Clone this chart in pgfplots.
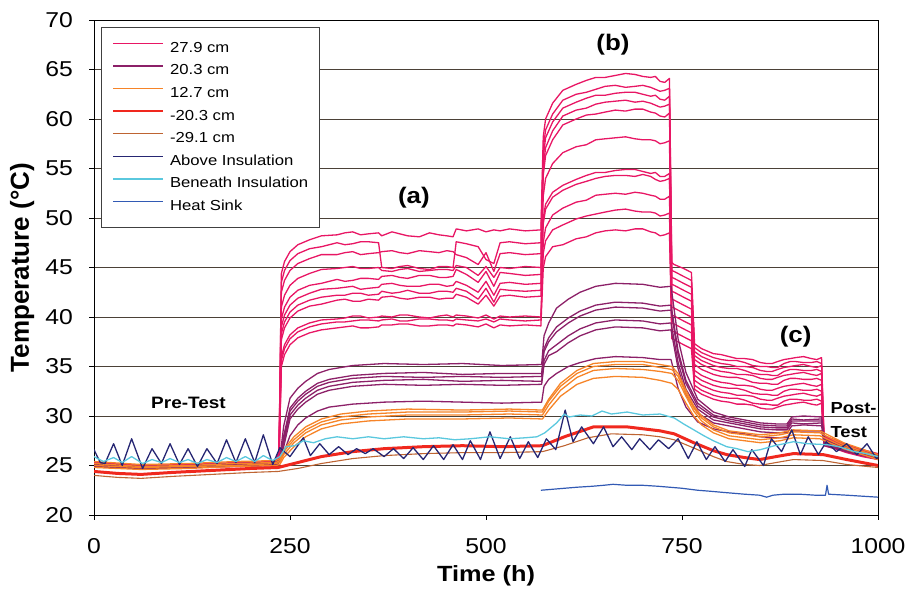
\documentclass[border=0pt]{standalone}
\usepackage{fontspec}
\setmainfont{Liberation Sans}[FakeStretch=1.15]
\newfontfamily\ylabfont{Liberation Sans}
\usepackage{pgfplots}
\usepackage{pgfplotstable}
\pgfplotsset{compat=1.18}

\definecolor{pinkc}{RGB}{232,22,100}
\definecolor{purplec}{RGB}{140,32,104}
\definecolor{orangec}{RGB}{246,132,40}
\definecolor{redc}{RGB}{240,40,30}
\definecolor{brownc}{RGB}{190,100,50}
\definecolor{navyc}{RGB}{38,38,115}
\definecolor{cyanc}{RGB}{90,200,222}
\definecolor{bluec}{RGB}{50,90,180}
\definecolor{gridc}{RGB}{75,65,55}

% thermocouples at 27.9 cm
\pgfplotstableread{
t a b c d e f g h i j k
0    25.3 25.2 25.1 25.3 25.0 25.2 25.1 25.0 24.9 25.1 24.9
60   25.0 24.9 24.9 25.0 24.8 24.9 24.8 24.8 24.7 24.8 24.7
120  25.1 25.0 25.0 25.1 24.9 25.0 24.9 24.9 24.8 24.9 24.8
180  25.3 25.2 25.1 25.2 25.1 25.1 25.0 25.0 25.0 25.0 24.9
232  25.4 25.3 25.3 25.4 25.2 25.3 25.2 25.1 25.1 25.1 25.0
236  26.5 26.2 26.0 26.3 25.9 26.1 25.8 25.7 25.6 25.6 25.5
239  44.4 43.5 42.5 41.0 39.8 39.0 38.3 37.7 36.0 35.6 35.0
243  45.6 44.7 43.7 42.2 41.0 40.2 39.5 38.9 37.2 36.8 36.2
250  46.6 45.7 44.7 43.2 42.0 41.2 40.5 39.9 38.2 37.8 37.2
260  47.3 46.4 45.4 43.9 42.7 41.9 41.2 40.6 38.9 38.5 37.9
275  47.8 46.9 45.9 44.4 43.2 42.4 41.7 41.1 39.4 39.0 38.4
290  48.2 47.1 46.3 44.8 43.4 42.8 42.0 41.3 39.7 39.3 38.7
310  48.3 47.5 46.3 44.9 43.8 42.9 42.2 41.7 39.8 39.5 38.9
320  48.5 47.3 46.5 45.0 43.6 43.0 42.2 41.8 39.9 39.5 39.0
330  48.6 47.4 46.6 45.1 43.7 43.1 42.4 41.6 40.1 39.6 39.1
340  48.3 47.6 46.3 44.9 43.9 42.8 42.4 41.6 40.1 39.7 38.9
350  48.4 47.6 46.4 44.9 43.9 42.9 42.2 41.8 39.9 39.7 38.9
363  48.5 47.5 46.5 45.0 43.8 43.0 42.3 41.7 40.0 39.6 39.0
367  48.2 45.0 46.6 44.7 44.1 43.3 42.6 42.0 40.1 39.7 39.2
380  48.6 44.9 46.7 44.6 44.2 43.4 42.4 42.1 40.0 39.8 39.2
390  48.4 45.1 46.5 44.8 44.0 43.2 42.5 41.9 40.2 39.6 39.3
400  48.2 45.2 46.4 44.9 43.9 43.1 42.7 41.8 40.2 39.6 39.3
415  48.1 44.9 46.7 44.6 44.2 43.1 42.4 42.0 40.0 39.8 39.1
428  48.5 44.8 46.6 44.7 44.2 43.3 42.4 42.0 39.9 39.8 39.1
440  48.3 45.1 46.5 44.8 44.0 43.3 42.6 41.8 40.1 39.7 39.2
450  48.2 45.1 46.7 44.8 44.0 43.1 42.6 41.9 40.2 39.7 39.2
458  48.1 45.0 46.6 44.7 44.1 43.2 42.5 41.9 40.0 39.6 39.1
462  48.9 47.6 46.3 45.2 44.8 43.6 42.9 42.3 40.2 39.8 39.3
475  48.7 47.4 46.0 45.0 44.3 43.2 42.6 42.0 40.1 39.7 39.2
490  48.9 47.1 45.3 44.2 43.5 42.5 41.8 41.3 39.9 39.6 39.0
500  48.6 45.8 46.5 45.1 44.6 43.6 42.9 42.2 40.2 39.8 39.3
510  48.8 45.4 44.6 44.0 43.1 42.2 41.5 41.1 39.8 39.5 38.9
518  48.7 47.5 46.4 45.0 44.5 43.4 42.8 42.1 40.1 39.8 39.2
530  48.9 47.6 46.5 44.9 44.4 43.5 42.7 42.2 40.0 39.7 39.1
550  48.7 47.4 46.3 45.1 44.2 43.3 42.6 42.0 40.1 39.6 39.2
570  48.8 47.5 46.4 45.0 44.3 43.4 42.7 42.1 40.0 39.7 39.1
573  58.2 57.0 56.1 55.1 54.3 52.2 50.0 49.4 47.5 46.4 44.9
576  60.0 58.9 58.1 57.1 56.3 54.0 51.4 50.9 49.0 47.7 46.1
585  61.6 60.5 59.7 58.8 57.9 55.5 52.6 52.1 50.3 48.8 47.1
598  62.9 61.9 61.1 60.3 59.4 56.6 53.3 52.8 51.0 49.3 47.3
615  63.5 62.5 61.7 60.9 60.0 57.2 53.9 53.4 51.6 49.9 47.9
628  63.9 62.7 62.1 61.1 60.4 57.4 54.3 53.7 51.8 50.2 48.1
640  64.2 63.0 62.4 61.5 60.5 57.9 54.6 54.0 52.3 50.4 48.5
652  64.2 63.3 62.4 61.7 60.7 58.0 54.6 54.2 52.4 50.6 48.7
665  64.4 63.4 62.6 61.8 60.9 58.1 54.8 54.3 52.5 50.8 48.8
678  64.6 63.2 62.7 61.9 60.8 58.2 54.9 54.3 52.4 50.9 48.7
690  64.5 63.3 62.7 61.7 61.0 58.0 54.9 54.2 52.6 50.7 48.9
700  64.3 63.4 62.5 61.8 61.0 57.9 54.7 54.4 52.5 50.6 48.9
710  64.2 63.2 62.3 61.6 60.7 57.9 54.5 54.2 52.3 50.6 48.6
716  64.3 63.0 62.4 61.4 60.6 57.8 54.6 53.9 52.2 50.5 48.5
722  63.8 62.8 62.0 61.2 60.3 57.5 54.2 53.7 51.9 50.2 48.2
728  63.7 62.9 61.9 61.3 60.2 57.6 54.2 53.8 51.9 50.3 48.3
734  64.1 63.1 62.3 61.5 60.6 57.8 54.5 54.0 52.2 50.5 48.5
737  45.5 44.7 44.0 43.3 42.6 41.8 41.0 40.2 39.4 38.6 37.8
740  45.3 44.6 43.9 43.2 42.5 41.7 40.9 40.1 39.3 38.5 37.7
752  44.9 44.1 43.4 42.7 42.0 41.2 40.4 39.6 38.8 38.0 37.2
762  44.5 43.7 43.0 42.3 41.6 40.8 40.0 39.2 38.4 37.6 36.8
766  37.3 36.9 36.5 36.1 35.7 35.2 34.6 34.1 33.6 33.1 32.7
775  36.8 36.4 36.0 35.6 35.2 34.7 34.1 33.6 33.1 32.6 32.2
790  36.3 35.9 35.5 35.1 34.7 34.2 33.6 33.1 32.6 32.1 31.7
800  36.2 35.7 35.3 34.9 34.5 34.0 33.4 32.9 32.4 31.9 31.5
810  36.0 35.6 35.2 34.8 34.4 33.9 33.3 32.8 32.3 31.8 31.4
820  35.8 35.6 35.0 34.8 34.2 33.9 33.1 32.8 32.1 31.8 31.2
830  35.8 35.4 35.0 34.6 34.2 33.7 33.1 32.6 32.1 31.6 31.2
840  35.7 35.1 34.9 34.3 34.1 33.4 33.0 32.3 32.0 31.3 31.1
850  35.4 35.0 34.6 34.2 33.8 33.3 32.7 32.2 31.7 31.2 30.8
858  35.3 35.0 34.5 34.2 33.7 33.3 32.6 32.2 31.6 31.2 30.7
865  35.3 34.9 34.5 34.1 33.7 33.2 32.6 32.1 31.6 31.1 30.7
872  35.5 34.9 34.7 34.1 33.9 33.2 32.8 32.1 31.8 31.1 30.9
880  35.7 35.3 34.9 34.5 34.1 33.6 33.0 32.5 32.0 31.5 31.1
888  35.8 35.5 35.0 34.7 34.2 33.8 33.1 32.7 32.1 31.7 31.2
895  35.9 35.5 35.1 34.7 34.3 33.8 33.2 32.7 32.2 31.7 31.3
905  36.0 35.4 35.2 34.6 34.4 33.7 33.3 32.6 32.3 31.6 31.4
915  35.8 35.4 35.0 34.6 34.2 33.7 33.1 32.6 32.1 31.6 31.2
922  35.7 35.5 34.9 34.7 34.1 33.8 33.0 32.7 32.0 31.7 31.1
928  35.9 35.3 35.1 34.5 34.3 33.6 33.2 32.5 32.2 31.5 31.3
931  28.0 27.9 27.8 27.7 27.6 27.5 27.4 27.3 27.2 27.1 27.0
945  27.6 27.5 27.4 27.3 27.2 27.1 27.0 26.9 26.8 26.8 26.7
960  27.1 27.0 26.9 26.9 26.8 26.7 26.6 26.5 26.4 26.4 26.3
980  26.6 26.5 26.5 26.4 26.3 26.3 26.2 26.1 26.0 26.0 25.9
1000 26.2 26.1 26.1 26.0 26.0 25.9 25.8 25.8 25.7 25.7 25.6
}\pinkdata

% thermocouples at 20.3 cm
\pgfplotstableread{
t a b c d e f
0    25.2 25.1 25.0 25.1 24.9 24.9
60   24.9 24.8 24.8 24.8 24.7 24.7
120  25.0 24.9 24.9 24.9 24.8 24.8
180  25.2 25.1 25.0 25.1 25.0 24.9
232  25.3 25.2 25.2 25.2 25.1 25.0
237  25.7 25.6 25.6 25.5 25.5 25.4
242  29.0 28.0 27.7 27.3 26.9 26.3
250  31.8 30.8 30.5 30.1 29.7 28.0
260  32.8 31.8 31.5 31.1 30.7 29.1
270  33.5 32.5 32.2 31.8 31.4 29.8
285  34.3 33.3 33.0 32.6 32.2 30.5
300  34.7 33.7 33.4 33.0 32.6 30.9
330  35.1 34.1 33.8 33.4 33.0 31.2
370  35.3 34.3 34.0 33.6 33.2 31.4
420  35.2 34.4 33.9 33.7 33.1 31.5
470  35.3 34.2 34.0 33.5 33.2 31.4
520  35.1 34.3 33.9 33.6 33.1 31.3
571  35.2 34.3 34.0 33.5 33.2 31.4
574  38.1 36.8 36.5 35.6 35.2 33.0
580  39.4 37.9 37.5 36.6 36.1 33.7
590  40.9 39.0 38.5 37.2 36.5 34.3
605  41.8 39.9 39.4 38.1 37.4 35.0
620  42.5 40.6 40.1 38.8 38.1 35.4
640  43.1 41.2 40.7 39.4 38.7 35.8
665  43.4 41.5 41.0 39.7 39.0 36.0
700  43.3 41.4 40.9 39.6 38.9 35.9
722  43.0 41.1 40.6 39.3 38.6 35.7
736  43.1 41.2 40.7 39.4 38.7 35.7
745  37.8 36.6 36.2 35.4 34.8 32.8
755  34.4 33.6 33.3 32.7 32.2 30.9
770  31.7 31.3 31.0 30.7 30.3 29.4
790  30.4 30.1 29.9 29.6 29.3 28.7
810  29.9 29.7 29.5 29.3 29.0 28.4
830  29.6 29.4 29.2 29.0 28.7 28.2
850  29.3 29.1 28.9 28.7 28.4 27.9
870  29.2 29.0 28.8 28.6 28.3 27.8
884  29.2 29.0 28.8 28.6 28.3 27.8
890  29.9 29.7 29.5 29.3 29.0 28.5
905  30.0 29.6 29.5 29.2 29.1 28.5
928  29.9 29.7 29.5 29.3 29.0 28.5
932  27.6 27.5 27.4 27.3 27.2 27.0
950  27.1 27.0 26.9 26.8 26.7 26.6
975  26.5 26.4 26.4 26.3 26.2 26.1
1000 26.0 26.0 25.9 25.9 25.8 25.7
}\purpledata

% thermocouples at 12.7 cm
\pgfplotstableread{
t a b c d
0    25.4 25.2 25.0 24.8
60   25.1 24.9 24.8 24.6
120  25.2 25.0 24.9 24.7
180  25.4 25.2 25.0 24.9
232  25.5 25.3 25.2 25.0
237  25.7 25.5 25.3 25.1
242  26.6 26.4 26.1 25.8
255  27.9 27.6 27.3 26.9
270  28.9 28.6 28.3 27.9
290  29.7 29.4 29.1 28.7
315  30.2 29.9 29.6 29.2
350  30.5 30.2 29.9 29.5
400  30.7 30.4 30.1 29.7
470  30.6 30.4 30.1 29.7
530  30.7 30.5 30.2 29.8
572  30.6 30.4 30.1 29.7
580  31.7 31.5 31.1 30.6
595  33.3 33.0 32.6 32.0
616  34.6 34.3 33.9 33.2
637  35.3 35.0 34.6 33.8
665  35.5 35.2 34.8 34.0
700  35.5 35.2 34.7 33.9
722  35.2 34.9 34.5 33.6
737  35.0 34.7 34.3 33.3
745  34.3 34.0 33.6 32.7
755  32.6 32.3 32.0 31.3
765  31.0 30.8 30.5 30.0
775  30.0 29.8 29.5 29.1
790  29.1 28.9 28.6 28.3
810  28.5 28.3 28.0 27.7
850  28.1 27.9 27.6 27.3
875  28.3 28.1 27.8 27.5
892  28.6 28.4 28.1 27.8
926  28.5 28.3 28.0 27.7
956  27.3 27.1 26.9 26.7
1000 26.1 25.9 25.8 25.6
}\orangedata

% -20.3 cm
\pgfplotstableread{
t T
0 24.4
30 24.2
60 24.1
100 24.3
150 24.5
200 24.7
235 24.8
260 25.3
290 25.9
330 26.4
370 26.7
420 26.9
470 27.0
520 26.9
572 27.0
600 27.9
637 28.9
680 28.9
722 28.5
740 28.2
765 27.3
790 26.5
807 26.1
830 25.8
849 25.6
870 25.9
892 26.2
930 26.1
960 25.6
1000 25.0
}\reddata

% -29.1 cm
\pgfplotstableread{
t T
0 24.0
30 23.8
60 23.7
100 23.9
150 24.1
200 24.3
235 24.4
260 24.7
290 25.2
330 25.7
370 26.0
420 26.2
470 26.3
520 26.3
572 26.4
600 27.0
630 27.8
660 28.2
700 28.1
722 27.9
740 27.6
770 26.6
790 25.9
807 25.4
830 25.1
849 25.0
870 25.3
892 25.6
930 25.5
960 25.1
1000 24.8
}\browndata

% above the insulation (daily cycle)
\pgfplotstableread{
t T
0 26.6
8 25.3
14 25.2
25 27.2
36 25.0
48 27.7
62 24.7
74 26.7
86 25.2
97 27.2
109 25.1
120 26.7
132 24.9
144 26.7
157 25.2
169 27.6
181 25.3
193 27.7
205 25.3
216 28.1
228 25.1
237 26.8
250 25.9
267 27.8
276 26.0
288 27.2
300 26.1
312 26.9
324 26.1
335 26.7
346 26.2
356 26.7
370 25.9
382 26.7
395 25.7
407 26.8
420 25.6
433 27.0
446 25.6
458 27.1
470 25.6
480 27.5
493 25.6
505 28.4
518 25.7
531 27.9
543 25.7
554 27.4
566 25.8
577 27.7
589 26.6
601 30.6
611 27.4
622 28.9
637 27.2
650 28.9
662 26.9
673 27.9
686 26.6
696 27.7
709 26.6
720 27.6
733 26.7
745 27.7
758 25.7
769 27.4
781 25.6
792 26.9
805 25.4
815 26.6
830 24.9
839 26.6
854 25.0
864 27.7
877 26.4
890 28.6
901 26.1
911 27.9
924 26.1
934 27.4
947 26.4
960 27.2
973 26.1
986 27.2
998 25.7
1000 25.8
}\abovedata

% beneath the insulation
\pgfplotstableread{
t T
0 25.9
12 25.4
25 25.8
36 25.3
48 25.9
62 25.2
74 25.6
86 25.3
97 25.7
109 25.3
120 25.6
132 25.2
144 25.6
157 25.3
169 25.8
181 25.4
193 25.9
205 25.4
216 26.0
228 25.5
237 25.9
245 26.9
256 27.0
267 27.5
280 27.3
295 27.7
310 27.9
330 27.7
350 27.9
370 27.7
395 27.9
420 27.7
440 27.8
460 27.6
480 27.7
505 27.9
530 27.7
550 27.8
565 27.9
575 28.3
590 29.3
600 30.2
606 29.9
620 30.1
635 30.0
648 30.5
660 30.2
680 30.4
700 30.1
722 30.2
740 29.8
752 29.2
765 28.6
778 28.0
790 27.5
807 26.9
820 26.7
834 26.4
850 26.6
868 27.0
880 27.2
892 27.4
910 27.2
935 27.1
950 26.9
970 26.4
985 26.2
1000 25.9
}\beneathdata

% heat sink
\pgfplotstableread{
t T
570 22.5
585 22.6
600 22.7
615 22.8
635 22.9
650 23.0
662 23.1
680 23.0
700 23.0
720 22.9
735 22.8
750 22.7
770 22.5
786 22.4
800 22.3
815 22.2
830 22.1
849 22.0
858 21.8
866 22.0
880 22.1
900 22.1
920 22.0
933 22.0
935 23.0
937 22.1
960 22.0
980 21.9
1000 21.8
}\sinkdata

\begin{document}
\begin{tikzpicture}
\path[use as bounding box] (0,0) rectangle (909bp,596bp);
\begin{axis}[
  at={(94bp,81bp)}, anchor=south west,
  width=784bp, height=495bp, scale only axis,
  xmin=0, xmax=1000, ymin=20, ymax=70,
  xtick={0,250,500,750,1000},
  ytick={20,25,30,35,40,45,50,55,60,65,70},
  tick pos=left, tick align=outside,
  major tick length=5bp,
  tick style={black, line width=0.8bp},
  ymajorgrids,
  grid style={gridc, line width=0.9bp},
  axis line style={black, line width=1bp},
  /pgf/number format/1000 sep={},
  /pgf/number format/assume math mode=true,
  ticklabel style={font=\fontsize{21.5bp}{22bp}\selectfont, inner sep=0bp},
  xticklabel shift=18bp,
  yticklabel shift=16bp,
  xlabel={Time (h)},
  ylabel={Temperature (°C)},
  xlabel style={font=\bfseries\fontsize{22bp}{24bp}\selectfont,
    at={(axis description cs:0.5,-0.123)}, anchor=center},
  ylabel style={font=\ylabfont\bfseries\fontsize{26bp}{28bp}\selectfont,
    at={(axis description cs:-0.0918,0.5)}, anchor=center},
  legend style={at={(axis description cs:0.0089,0.986)}, anchor=north west,
    draw=black!75, line width=0.7bp, fill=white,
    font=\fontsize{14.5bp}{15bp}\selectfont,
    inner xsep=11bp, inner ysep=14bp, row sep=8.6bp,
    nodes={inner sep=0bp, text height=11bp, text depth=3bp}},
  legend cell align=left,
  legend image code/.code={%
    \draw[#1] (0bp,5bp) -- (50bp,5bp);
    \path[draw=none, fill=none] (0bp,0bp) rectangle (57bp,5bp);},
  every axis plot/.append style={line join=round},
]
% 27.9 cm
\pgfplotsinvokeforeach{a,b,c,d,e,f,g,h,i,j,k}{
  \addplot[pinkc, line width=1.3bp, forget plot] table[x=t, y=#1] {\pinkdata};
}
% 20.3 cm
\pgfplotsinvokeforeach{a,b,c,d,e,f}{
  \addplot[purplec, line width=1.3bp, forget plot] table[x=t, y=#1] {\purpledata};
}
% 12.7 cm
\pgfplotsinvokeforeach{a,b,c,d}{
  \addplot[orangec, line width=1.3bp, forget plot] table[x=t, y=#1] {\orangedata};
}
% -20.3 cm: a wide band of overlapping traces
\addplot[redc, line width=3bp, forget plot] table[x=t, y=T] {\reddata};
% -29.1 cm
\addplot[brownc, line width=1.1bp, forget plot] table[x=t, y=T] {\browndata};
% above and beneath the insulation, heat sink
\addplot[navyc, line width=1.3bp, forget plot] table[x=t, y=T] {\abovedata};
\addplot[cyanc, line width=1.3bp, forget plot] table[x=t, y=T] {\beneathdata};
\addplot[bluec, line width=1.2bp, forget plot] table[x=t, y=T] {\sinkdata};

% legend
\addlegendimage{pinkc, line width=1.5bp}
\addlegendentry{27.9 cm}
\addlegendimage{purplec, line width=1.5bp}
\addlegendentry{20.3 cm}
\addlegendimage{orangec, line width=1.5bp}
\addlegendentry{12.7 cm}
\addlegendimage{redc, line width=1.5bp}
\addlegendentry{-20.3 cm}
\addlegendimage{brownc, line width=1.5bp}
\addlegendentry{-29.1 cm}
\addlegendimage{navyc, line width=1.5bp}
\addlegendentry{Above Insulation}
\addlegendimage{cyanc, line width=1.5bp}
\addlegendentry{Beneath Insulation}
\addlegendimage{bluec, line width=1.5bp}
\addlegendentry{Heat Sink}

\node[font=\bfseries\fontsize{22.5bp}{24bp}\selectfont] at (axis cs:408,52.1) {(a)};
\node[font=\bfseries\fontsize{22.5bp}{24bp}\selectfont] at (axis cs:662,67.5) {(b)};
\node[font=\bfseries\fontsize{22.5bp}{24bp}\selectfont] at (axis cs:895,38.0) {(c)};
\node[font=\bfseries\fontsize{16.5bp}{18bp}\selectfont] at (axis cs:120.5,31.3) {Pre-Test};
\node[font=\bfseries\fontsize{16bp}{24bp}\selectfont, align=left, anchor=west]
  at (axis cs:935,29.6) {Post-\\Test};
\end{axis}
\end{tikzpicture}
\end{document}
